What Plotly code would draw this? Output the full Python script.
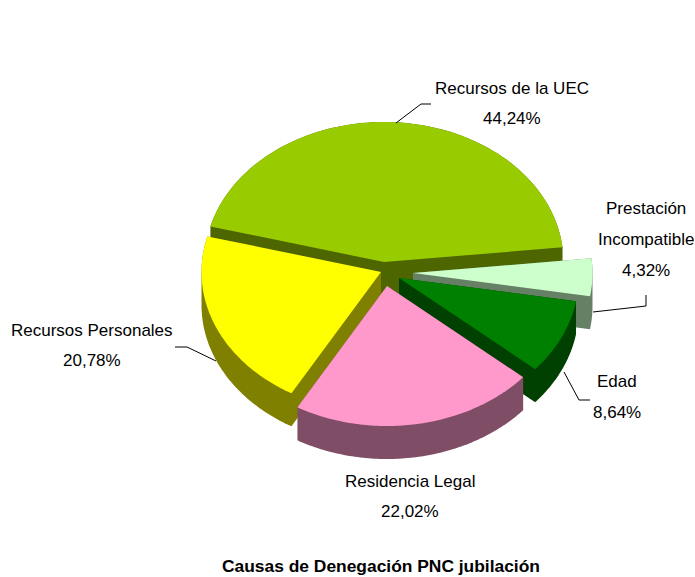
import numpy as np
import plotly.graph_objects as go

# --- data
categories = ["Recursos de la UEC", "Recursos Personales", "Residencia Legal", "Edad", "Prestación Incompatible"]
values = [44.24, 20.78, 22.02, 8.64, 4.32]
value_labels = ["44,24%", "20,78%", "22,02%", "8,64%", "4,32%"]
title_text = "Causas de Denegación PNC jubilación"

# --- styles
top_colors = ["#99CC00", "#FFFF00", "#FF99CC", "#008000", "#CCFFCC"]
side_colors = ["#4D6600", "#808000", "#804D66", "#004000", "#668066"]

# --- pie geometry (canvas pixels)
W, H = 695, 577
apex_x = [384, 381, 387, 399, 413]
apex_y = [262, 272, 286, 278, 273]
RX, RY = 179.5, 140
DEPTH = 33
START = 6.0
draw_order = [0, 4, 3, 1, 2]


def wedge(cx, cy, a0, a1):
    t = np.radians(np.linspace(a0, a1, 90))
    xs = np.concatenate([[cx], cx + RX * np.cos(t)])
    ys = np.concatenate([[cy], cy - RY * np.sin(t)])
    return xs, ys


def extrude_hull(xs, ys, d):
    pts = sorted(set(zip(xs.tolist(), ys.tolist())) | set(zip(xs.tolist(), (ys + d).tolist())))

    def cross(o, a, b):
        return (a[0] - o[0]) * (b[1] - o[1]) - (a[1] - o[1]) * (b[0] - o[0])

    def half(seq):
        out = []
        for p in seq:
            while len(out) >= 2 and cross(out[-2], out[-1], p) <= 0:
                out.pop()
            out.append(p)
        return out[:-1]

    hull = half(pts) + half(pts[::-1])
    hull.append(hull[0])
    return [p[0] for p in hull], [p[1] for p in hull]


sweeps = np.array(values) / sum(values) * 360
starts = START + np.concatenate([[0], np.cumsum(sweeps)[:-1]])

fig = go.Figure()
for i in draw_order:
    xs, ys = wedge(apex_x[i], apex_y[i], starts[i], starts[i] + sweeps[i])
    hx, hy = extrude_hull(xs, ys, DEPTH)
    fig.add_trace(go.Scatter(x=hx, y=hy, mode="none", fill="toself", fillcolor=side_colors[i],
                             hoverinfo="skip", showlegend=False))
    fig.add_trace(go.Scatter(x=np.append(xs, xs[0]), y=np.append(ys, ys[0]), mode="none", fill="toself",
                             fillcolor=top_colors[i], name=categories[i], hoverinfo="name+text",
                             text=value_labels[i], showlegend=False))

# --- leader lines
leaders = [
    ([396, 421, 431], [123, 104, 104]),
    ([216, 187, 175], [361, 347, 347]),
    ([564, 579, 590], [372, 400, 400]),
    ([593, 646, 646], [312, 306, 295]),
]
for lx, ly in leaders:
    fig.add_trace(go.Scatter(x=lx, y=ly, mode="lines", line=dict(color="black", width=1),
                             hoverinfo="skip", showlegend=False))

# --- labels
FONT = "Liberation Sans, Arial, sans-serif"
label_lines = [
    (["Recursos de la UEC", value_labels[0]], 512, [88, 118]),
    (["Recursos Personales", value_labels[1]], 92, [330, 360]),
    (["Residencia Legal", value_labels[2]], 410, [481, 511]),
    (["Edad", value_labels[3]], 617, [381, 412]),
    (["Prestación", "Incompatible", value_labels[4]], 646, [208, 239, 270]),
]
for lines, x, ys_ in label_lines:
    for line, y in zip(lines, ys_):
        fig.add_annotation(x=x, y=y, text=line, showarrow=False, xanchor="center", yanchor="middle",
                           font=dict(family=FONT, size=17, color="black"))
fig.add_annotation(x=381, y=566, text="<b>" + title_text + "</b>", showarrow=False, xanchor="center",
                   yanchor="middle", font=dict(family=FONT, size=17.4, color="black"))

axis = dict(visible=False, fixedrange=True)
fig.update_layout(
    width=W, height=H, margin=dict(l=0, r=0, t=0, b=0), paper_bgcolor="white", plot_bgcolor="white",
    xaxis=dict(range=[0, W], **axis),
    yaxis=dict(range=[H, 0], **axis),
    showlegend=False,
)
fig.write_html("out.html", config={"displayModeBar": False},
               post_script="document.body.style.margin='0';document.body.style.overflow='hidden';")
